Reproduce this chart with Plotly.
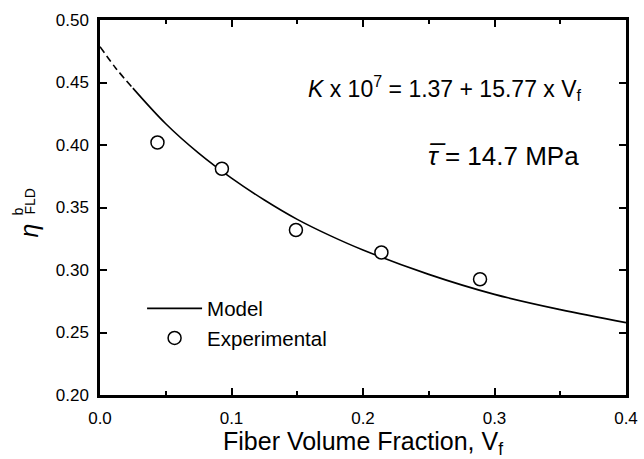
import plotly.graph_objects as go

# ---- data ----
exp_vf = [0.0437, 0.0927, 0.149, 0.214, 0.289]
exp_eta = [0.402, 0.381, 0.332, 0.314, 0.2926]

model_dash_vf = [0.0, 0.012, 0.025]
model_dash_eta = [0.4787, 0.4615, 0.4455]

model_vf = [0.025, 0.05, 0.075, 0.1, 0.125, 0.15, 0.175, 0.2, 0.25, 0.3, 0.35, 0.4]
model_eta = [0.4455, 0.4170, 0.3935, 0.3735, 0.3560, 0.3405, 0.3275, 0.3160, 0.2965, 0.2805, 0.2683, 0.2579]

x_ticks = [0.0, 0.1, 0.2, 0.3, 0.4]
y_ticks = [0.20, 0.25, 0.30, 0.35, 0.40, 0.45, 0.50]

FONT = "Liberation Sans, Arial, sans-serif"

fig = go.Figure()
fig.add_trace(go.Scatter(x=model_dash_vf, y=model_dash_eta, mode="lines",
                         line=dict(color="black", width=1.6, dash="7px,4px", shape="spline"),
                         showlegend=False, hoverinfo="skip"))
fig.add_trace(go.Scatter(x=model_vf, y=model_eta, mode="lines", name="Model",
                         line=dict(color="black", width=1.6, shape="spline")))
fig.add_trace(go.Scatter(x=exp_vf, y=exp_eta, mode="markers", name="Experimental",
                         marker=dict(symbol="circle", size=13, color="white",
                                     line=dict(color="black", width=1.5))))

fig.update_layout(
    width=644, height=459,
    margin=dict(l=100, r=18, t=20, b=64),
    paper_bgcolor="white", plot_bgcolor="white",
    font=dict(family=FONT, color="black", size=16),
    showlegend=True,
    legend=dict(x=0.08, y=0.284, xanchor="left", yanchor="top",
                bgcolor="rgba(0,0,0,0)", font=dict(size=20.5), itemwidth=55,
                tracegroupgap=0),
)

fig.update_xaxes(range=[0, 0.4], tickvals=x_ticks, tickformat=".1f",
                 showgrid=False, zeroline=False, automargin=False,
                 showline=True, linecolor="black", linewidth=2.5, mirror="ticks",
                 ticks="inside", ticklen=7, tickwidth=2, tickcolor="black",
                 minor=dict(dtick=0.05, ticks="inside", ticklen=4, tickwidth=2, tickcolor="black"),
                 tickfont=dict(size=17), ticklabelstandoff=6,
                 title=dict(text="Fiber Volume Fraction, V<sub>f</sub>", font=dict(size=25), standoff=8))
fig.update_yaxes(range=[0.2, 0.5], tickvals=y_ticks, tickformat=".2f",
                 showgrid=False, zeroline=False, automargin=False,
                 showline=True, linecolor="black", linewidth=2.5, mirror="ticks",
                 ticks="inside", ticklen=7, tickwidth=2, tickcolor="black",
                 tickfont=dict(size=17), ticklabelstandoff=5)

# y-axis title built from stacked pieces
fig.add_annotation(text="<i>η</i>", xref="paper", yref="paper", x=0, y=0.5,
                   xshift=-88, yshift=-23, textangle=-90, showarrow=False,
                   font=dict(size=25))
fig.add_annotation(text="b", xref="paper", yref="paper", x=0, y=0.5,
                   xshift=-93, yshift=-4, textangle=-90, showarrow=False,
                   font=dict(size=14))
fig.add_annotation(text="FLD", xref="paper", yref="paper", x=0, y=0.5,
                   xshift=-81, yshift=6, textangle=-90, showarrow=False,
                   font=dict(size=14))

fig.add_annotation(text="<i>K</i> x 10<sup>7</sup> = 1.37 + 15.77 x V<sub>f</sub>",
                   xref="paper", yref="paper", x=(584 - 100) / 526, y=1 - (88 - 20) / 375,
                   xanchor="right", yanchor="middle", showarrow=False, font=dict(size=23))
fig.add_annotation(text="<i>τ\u0305</i> = 14.7 MPa",
                   xref="paper", yref="paper", x=(581 - 100) / 526, y=1 - (156 - 20) / 375,
                   xanchor="right", yanchor="middle", showarrow=False, font=dict(size=26))

fig.write_html("out.html")
